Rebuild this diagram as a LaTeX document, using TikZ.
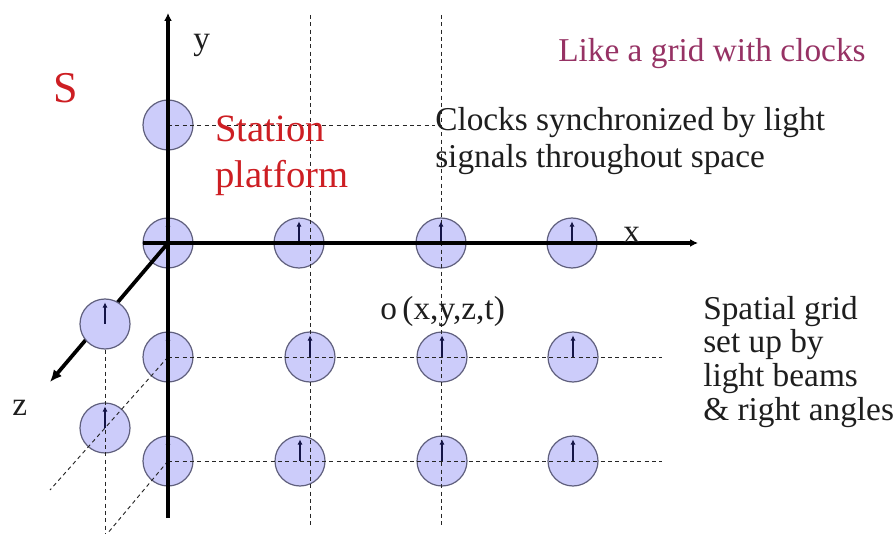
\documentclass[tikz,border=0pt]{standalone}
\usepackage{fontspec}
\setmainfont{Liberation Serif}
\usetikzlibrary{arrows.meta}
\definecolor{clockfill}{RGB}{204,204,250}
\definecolor{clockrim}{RGB}{95,95,125}
\definecolor{handcol}{RGB}{20,20,70}
\definecolor{redtxt}{RGB}{205,30,35}
\definecolor{pinktxt}{RGB}{150,50,100}
\definecolor{txt}{RGB}{30,30,30}

\begin{document}
\begin{tikzpicture}[x=0.75pt,y=-0.75pt,
  clock/.style={circle,draw=clockrim,fill=clockfill,line width=0.9pt,
                minimum size=37.5pt,inner sep=0pt},
  hand/.style={draw=handcol,line width=0.9pt,-{Latex[length=4pt,width=4pt]}},
  axis/.style={line width=2.8pt,black},
  gridline/.style={line width=0.7pt,black!85,dash pattern=on 3pt off 2.5pt},
  lbl/.style={anchor=base west,inner sep=0pt,font=\fontsize{25}{28}\selectfont,text=txt},
  redlbl/.style={anchor=base west,inner sep=0pt,font=\fontsize{29}{34}\selectfont,text=redtxt}]
\useasboundingbox (0,0) rectangle (895,534);

% clocks of the x-y plane
\node[clock] (ctop) at (168,125) {};
\node[clock] (c11) at (168,243) {};
\node[clock] (c12) at (299,243) {};
\node[clock] (c13) at (441,243) {};
\node[clock] (c14) at (572,243) {};
\node[clock] (c21) at (168,357) {};
\node[clock] (c22) at (310,357) {};
\node[clock] (c23) at (442,357) {};
\node[clock] (c24) at (573,357) {};
\node[clock] (c31) at (168,461) {};
\node[clock] (c32) at (300,461) {};
\node[clock] (c33) at (442,461) {};
\node[clock] (c34) at (573,461) {};

% z axis, lying under the clocks placed along it
\coordinate (zend) at (50,382);
\draw[axis,-{Latex[length=9pt,width=8pt]}] (c11.center) -- (zend);
\node[clock] (z1) at (105,324) {};
\node[clock] (z2) at (105,428) {};

% dashed grid of light beams
\coordinate (v2top) at (310,15);  \coordinate (v2bot) at (310,525);
\coordinate (v3top) at (441,15);  \coordinate (v3bot) at (441,525);
\coordinate (htop)  at (435,125);
\coordinate (h2end) at (662,357);
\coordinate (h3end) at (662,461);
\coordinate (zvbot) at (105,534);
\coordinate (d1end) at (50,490);
\coordinate (d2end) at (107,534);
\draw[gridline] (v2top) -- (v2bot);
\draw[gridline] (v3top) -- (v3bot);
\draw[gridline] (ctop.center) -- (htop);
\draw[gridline] (c21.center) -- (h2end);
\draw[gridline] (c31.center) -- (h3end);
\draw[gridline] (z1.south) -- (zvbot);
\draw[gridline] (c21.center) -- (d1end);
\draw[gridline] (c31.center) -- (d2end);

% clock hands
\foreach \c in {c11,c12,c13,c14,c21,c22,c23,c24,c31,c32,c33,c34,z1,z2}
  \draw[hand] (\c.center) -- ([yshift=-3pt]\c.north);

% x and y axes
\coordinate (ytop) at (168,13);
\coordinate (ybot) at (168,518);
\coordinate (xleft) at (143,243);
\coordinate (xright) at (698,243);
\draw[axis,-{Latex[length=6pt,width=6pt]}] (ybot) -- (ytop);
\draw[axis,-{Latex[length=6pt,width=6pt]}] (xleft) -- (xright);

% labels
\node[lbl] (ylab) at (193,50) {y};
\node[lbl] (xlab) at (623,243) {x};
\node[lbl] (zlab) at (12,415) {z};
\node[anchor=base west,inner sep=0pt,font=\fontsize{33}{38}\selectfont,text=redtxt] (frame) at (53,103) {S};
\node[redlbl] (st1) at (215,142) {Station};
\node[redlbl] (st2) at (215,188) {platform};
\node[anchor=base west,inner sep=0pt,font=\fontsize{25}{28}\selectfont,text=pinktxt] (title) at (558,62) {Like a grid with clocks};
\node[lbl] (sync1) at (435,131) {Clocks synchronized by light};
\node[lbl] (sync2) at (435,168) {signals throughout space};
\node[lbl] (event) at (380,320) {o\,(x,y,z,t)};
\node[lbl] (sp1) at (703,320) {Spatial grid};
\node[lbl] (sp2) at (703,352) {set up by};
\node[lbl] (sp3) at (703,386) {light beams};
\node[lbl] (sp4) at (703,420) {\&\ right angles};
\end{tikzpicture}
\end{document}
